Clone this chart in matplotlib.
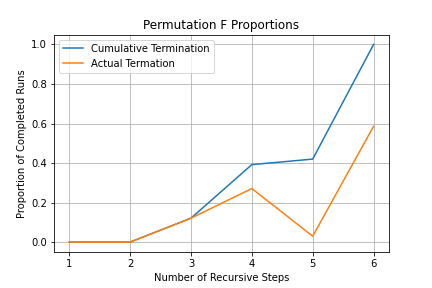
import matplotlib
matplotlib.use("Agg")
import matplotlib.pyplot as plt

steps = [1, 2, 3, 4, 5, 6]
cumulative = [0.0, 0.0, 0.121, 0.392, 0.42, 1.0]
actual = [0.0, 0.0, 0.121, 0.271, 0.03, 0.586]

fig, ax = plt.subplots(figsize=(6, 4), dpi=72)
fig.subplots_adjust(left=0.125, right=0.9, top=0.88, bottom=0.125)
ax.plot(steps, cumulative, label="Cumulative Termination")
ax.plot(steps, actual, label="Actual Termation")
ax.set_title("Permutation F Proportions")
ax.set_xlabel("Number of Recursive Steps")
ax.set_ylabel("Proportion of Completed Runs")
ax.grid(True)
ax.legend(loc="upper left")
fig.savefig("out.png", dpi=72)
